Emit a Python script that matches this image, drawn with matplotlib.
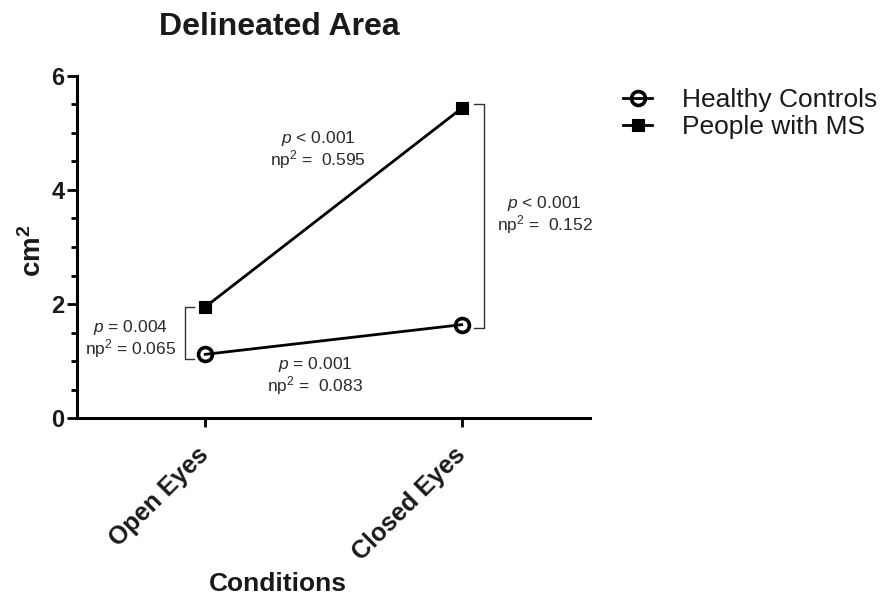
import matplotlib

matplotlib.use("Agg")
import matplotlib.pyplot as plt
from matplotlib.ticker import MultipleLocator

plt.rcParams["font.family"] = ["Liberation Sans", "DejaVu Sans"]
plt.rcParams["mathtext.fontset"] = "custom"
plt.rcParams["mathtext.rm"] = "Liberation Sans"
plt.rcParams["mathtext.it"] = "Liberation Sans:italic"
plt.rcParams["mathtext.bf"] = "Liberation Sans:bold"

# data
conditions = ["Open Eyes", "Closed Eyes"]
healthy = [1.12, 1.64]
ms_group = [1.95, 5.43]
series_names = ["Healthy Controls", "People with MS"]

# annotation texts: (x, y, line 1, line 2)
stats = [
    (0.44, 4.72, "$\\it{p}$ < 0.001", "np$^2$ =  0.595"),
    (1.323, 3.57, "$\\it{p}$ < 0.001", "np$^2$ =  0.152"),
    (-0.29, 1.41, "$\\it{p}$ = 0.004", "np$^2$ = 0.065"),
    (0.428, 0.76, "$\\it{p}$ = 0.001", "np$^2$ =  0.083"),
]

ink = "#1a1a1a"
x = list(range(len(conditions)))

fig = plt.figure(figsize=(8.87, 5.97), dpi=100)
ax = fig.add_axes([77 / 887, 1 - 418.3 / 597, 513 / 887, 342.6 / 597])

ax.plot(x, healthy, color="black", lw=2.0, marker="o", ms=10, mew=2.6,
        mfc="none", mec="black", label=series_names[0], zorder=3)
ax.plot(x, ms_group, color="black", lw=2.0, marker="s", ms=9, mew=0.8,
        mfc="black", mec="black", label=series_names[1], zorder=3)

# brackets between groups
bc = "#333333"
xl, xl_t = -0.078, -0.043
ax.plot([xl_t, xl, xl, xl_t], [ms_group[0], ms_group[0], healthy[0] - 0.09, healthy[0] - 0.09],
        color=bc, lw=1.0, clip_on=False)
xr, xr_t = 1.086, 1.047
ax.plot([xr_t, xr, xr, xr_t], [ms_group[1] + 0.08, ms_group[1] + 0.08, healthy[1] - 0.05, healthy[1] - 0.05],
        color=bc, lw=1.0, clip_on=False)

# two lines per note, ~21 px apart
dy = 10.5 / 57.1
for tx, ty, l1, l2 in stats:
    ax.text(tx, ty + dy, l1, ha="center", va="center", fontsize=12.5, color="#2a2a2a")
    ax.text(tx, ty - dy, l2, ha="center", va="center", fontsize=12.5, color="#2a2a2a")

ax.set_xlim(-0.5, 1.5)
ax.set_ylim(0, 6)
ax.set_xticks(x)
ax.set_xticklabels(conditions, rotation=45, ha="right", va="center",
                   rotation_mode="anchor", fontsize=18, fontweight="bold", color=ink)
ax.yaxis.set_major_locator(MultipleLocator(2))
ax.yaxis.set_minor_locator(MultipleLocator(0.5))
for lab in ax.get_yticklabels():
    lab.set_fontweight("bold")
ax.tick_params(axis="y", which="major", length=7, width=2.0, labelsize=17,
               labelcolor=ink, pad=2)
ax.tick_params(axis="y", which="minor", length=4.5, width=2.0)
ax.tick_params(axis="x", length=6.5, width=2.0, pad=17)

for side in ["top", "right"]:
    ax.spines[side].set_visible(False)
for side in ["left", "bottom"]:
    ax.spines[side].set_linewidth(2.2)

ax.set_ylabel(r"$\mathbf{cm}^\mathbf{2}$", fontsize=20, color=ink)
ax.yaxis.set_label_coords((33 - 77) / 513, 0.49)
ax.yaxis.label.set_va("center")
ax.set_xlabel("Conditions", fontsize=19, fontweight="bold", color=ink)
ax.xaxis.set_label_coords(0.392, -0.484)
ax.xaxis.label.set_va("center")

fig.text(279 / 887, 1 - 27 / 597, "Delineated Area", ha="center", va="center",
         fontsize=23, fontweight="bold", color=ink)

fig.legend(loc="upper left", bbox_to_anchor=(623 / 887, 1 - 88 / 597), frameon=False,
           fontsize=19, handlelength=1.1, handletextpad=1.15, labelspacing=0.12,
           borderpad=0, borderaxespad=0, labelcolor=ink)

fig.savefig("out.png", dpi=100)
plt.close(fig)
